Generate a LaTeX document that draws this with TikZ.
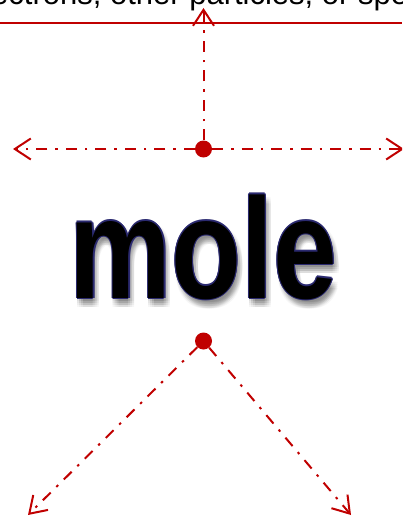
\documentclass[tikz,border=0pt]{standalone}
\usepackage{fontspec}
\setmainfont{Liberation Sans}
\usetikzlibrary{arrows.meta}
\definecolor{deepred}{HTML}{C00000}
\definecolor{inkblue}{HTML}{2B2A70}

\begin{document}
\begin{tikzpicture}[
    x=1pt, y=-1pt,
    dot/.style={circle, fill=deepred, inner sep=0pt, minimum size=17pt},
    ray/.style={-{Straight Barb[length=16pt, width=21pt]}, line width=2pt, draw=deepred, dash pattern=on 11pt off 8pt on 2.5pt off 8pt},
    rule/.style={draw=deepred, line width=1.8pt},
    word/.style={font=\fontsize{143}{143}\selectfont\bfseries, inner sep=0pt, anchor=base}
]
\useasboundingbox (0,0) rectangle (402,516);
\clip (0,0) rectangle (402,516);
\node[font=\fontsize{31}{31}\selectfont, anchor=base west, inner sep=0pt] (note) at (-9,5) {ectrons, other particles, or spe};
\coordinate (ruleL) at (0,23);
\coordinate (ruleR) at (402,23);
\draw[rule] (ruleL) -- (ruleR);
\foreach \sx in {0,2,4,6}
  \foreach \sy in {3,5,7,9}
    \node[word, text=black, opacity=0.035] (shade\sx\sy) at (203.5+\sx,298+\sy) {\scalebox{0.8}[1]{mole}};
\foreach \ox/\oy [count=\i] in {1.2/0,-1.2/0,0/1.2,0/-1.2,0.85/0.85,-0.85/0.85,0.85/-0.85,-0.85/-0.85}
  \node[word, text=inkblue] (rim\i) at (203.5+\ox,298+\oy) {\scalebox{0.8}[1]{mole}};
\node[word, text=black] (mole) at (203.5,298) {\scalebox{0.8}[1]{mole}};
\node[dot] (hub) at (203.5,149) {};
\node[dot] (root) at (203.5,341) {};
\coordinate (topend) at (203.5,8);
\coordinate (westend) at (13,149);
\coordinate (eastend) at (404,149);
\coordinate (swend) at (28,515);
\coordinate (seend) at (351,515);
\draw[ray] (hub) -- (topend);
\draw[ray] (hub) -- (westend);
\draw[ray] (hub) -- (eastend);
\draw[ray] (root) -- (swend);
\draw[ray] (root) -- (seend);
\end{tikzpicture}
\end{document}
